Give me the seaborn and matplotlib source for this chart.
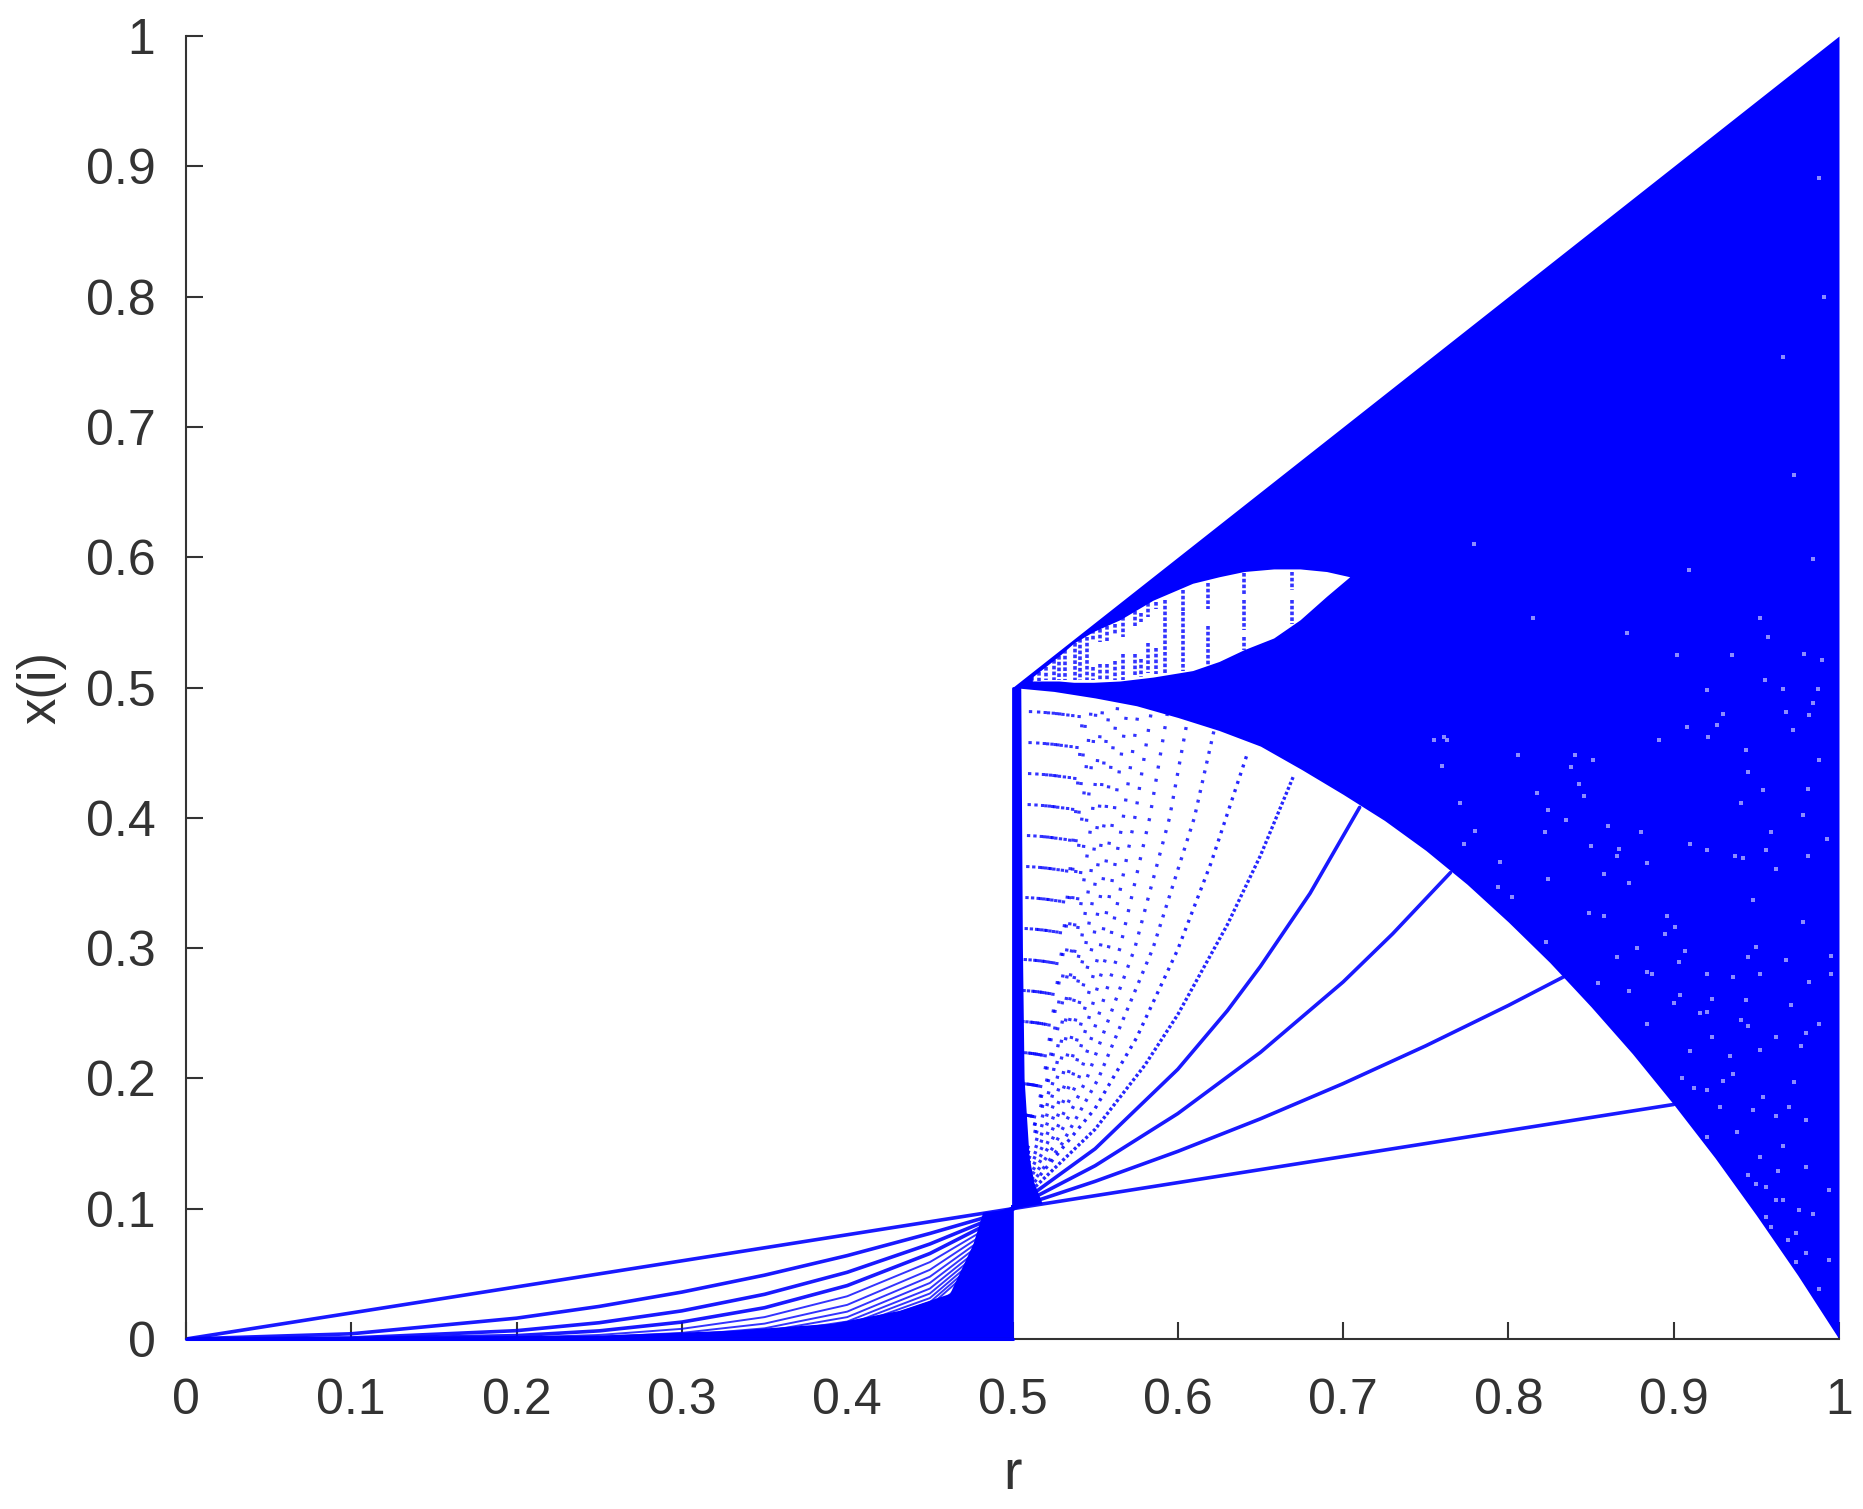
import matplotlib
matplotlib.use("Agg")
import matplotlib.pyplot as plt
import seaborn as sns

sns.set_theme(style="white")
plt.rcParams['font.family'] = ['Liberation Sans', 'DejaVu Sans']

BLUE = '#0000ff'
INK = '#333333'

x_ticks = [0, .1, .2, .3, .4, .5, .6, .7, .8, .9, 1]
tick_labels = ['0', '0.1', '0.2', '0.3', '0.4', '0.5', '0.6', '0.7', '0.8', '0.9', '1']

# main dense band, right half
band_r = [.5, .525, .55, .575, .6, .625, .65, .675, .7, .725, .75, .775, .8, .825, .85, .875, .9, .925, .95, .975, 1]
band_top = [.5, .525, .55, .575, .6, .625, .65, .675, .7, .725, .75, .775, .8, .825, .85, .875, .9, .925, .95, .975, 1]
band_low = [.5, .497, .492, .486, .477, .467, .455, .437, .418, .398, .375, .349, .32, .289, .255, .219, .18, .139, .095, .049, 0]

# white eye inside the band
eye_r = [.512, .52, .528, .537, .549, .565, .585, .609, .625, .64, .658, .674, .69, .704]
eye_top = [.508, .516, .524, .534, .543, .552, .567, .58, .585, .589, .591, .591, .589, .585]
eye_low = [.505, .505, .505, .504, .504, .505, .508, .513, .52, .529, .538, .552, .57, .585]

# vertical dotted columns inside the eye
col_r = [.669, .669, .640, .640, .640, .618, .618, .603, .603, .592, .582, .582, .574, .574,
         .567, .567, .557, .557, .549, .549, .545, .532,
         .512, .516, .520, .525, .528, .538, .541, .553, .553, .562, .562, .578, .578, .587, .587]
col_hi = [.589, .567, .588, .567, .539, .580, .547, .575, .558, .567, .565, .534, .559, .526,
          .554, .526, .547, .518, .544, .516, .539, .529,
          .508, .512, .516, .521, .524, .534, .537, .545, .518, .549, .520, .557, .522, .566, .530]
col_lo = [.575, .549, .572, .544, .529, .560, .517, .559, .513, .511, .554, .511, .547, .508,
          .539, .506, .536, .506, .536, .506, .506, .506,
          .505, .505, .506, .506, .506, .506, .506, .535, .506, .540, .506, .550, .508, .560, .510]

# first iterates, rising from (0.5, 0.1) until they meet the band
ray1_r, ray1_y = [.5, .7, .9], [.1, .14, .18]
ray2_r, ray2_y = [.5, .55, .6, .65, .7, .75, .8, .835], [.1, .121, .144, .169, .196, .225, .256, .279]
ray3_r, ray3_y = [.5, .55, .6, .65, .7, .73, .765], [.1, .133, .173, .22, .274, .311, .358]
ray4_r, ray4_y = [.5, .55, .6, .63, .65, .68, .71], [.1, .146, .207, .252, .286, .342, .408]
ray5_r, ray5_y = [.5, .55, .58, .6, .63, .65, .67], [.1, .161, .21, .249, .318, .371, .432]
ray6_r, ray6_y = [.5, .55, .575, .6, .62, .642], [.1, .177, .231, .299, .365, .449]

# later iterates, read as r position at fixed heights
fan_y = [.1, .15, .2, .3, .4, .49]
fan_rows = [
    (2.1, [.5, .530, .552, .585, .610, .626]),
    (2.6, [.5, .526, .545, .574, .595, .608]),
    (3.1, [.5, .523, .540, .565, .583, .595]),
    (3.5, [.5, .521, .536, .558, .574, .585]),
    (4.0, [.5, .519, .533, .553, .567, .577]),
    (4.5, [.5, .517, .530, .548, .561, .570]),
    (5.0, [.5, .516, .527, .544, .556, .564]),
    (5.6, [.5, .515, .525, .541, .552, .559]),
    (6.3, [.5, .514, .524, .538, .548, .555]),
    (7.0, [.5, .513, .522, .536, .545, .551]),
    (7.0, [.5, .512, .521, .533, .542, .548]),
    (7.7, [.5, .511, .520, .531, .540, .545]),
    (7.7, [.5, .511, .519, .530, .538, .543]),
    (8.4, [.5, .510, .518, .528, .536, .541]),
    (8.4, [.5, .509, .516, .526, .533, .537]),
    (8.4, [.5, .509, .515, .524, .530, .534]),
    (8.4, [.5, .508, .514, .522, .527, .531]),
    (8.4, [.5, .507, .513, .520, .525, .529]),
    (8.4, [.5, .507, .512, .519, .524, .527]),
    (8.4, [.5, .506, .511, .517, .522, .525]),
    (8.4, [.5, .506, .510, .515, .520, .522]),
    (8.4, [.5, .505, .509, .514, .518, .520]),
    (8.4, [.5, .504, .507, .511, .514, .516]),
    (8.4, [.5, .503, .505, .508, .510, .511]),
]

# solid wedge hugging r = 0.5 on the right side
wall_y = [.1, .104, .12, .14, .2, .3, .5]
wall_r = [.5, .518, .513, .510, .507, .506, .505]

# left half: curves rising to (0.5, 0.1)
left_r = [0, .1, .2, .25, .3, .35, .4, .45, .48, .5]
left_rows = [
    [0, .02, .04, .05, .06, .07, .08, .09, .096, .1],
    [0, .004, .016, .025, .036, .049, .064, .081, .092, .1],
    [0, .0008, .0064, .0125, .0216, .0343, .0512, .0729, .0885, .1],
    [0, .0002, .0026, .00625, .013, .024, .041, .0656, .085, .1],
    [0, 0, .001, .0031, .0078, .0168, .0328, .059, .0815, .1],
    [0, 0, .0004, .0016, .0047, .0118, .0262, .0531, .0783, .1],
    [0, 0, .0002, .0008, .0028, .0082, .021, .0478, .0751, .1],
    [0, 0, 0, .0004, .0017, .0058, .0168, .043, .0721, .1],
    [0, 0, 0, .0002, .001, .004, .0134, .0387, .0693, .1],
    [0, 0, 0, .0001, .0006, .0028, .0107, .0349, .0665, .1],
    [0, 0, 0, 0, .0004, .002, .0086, .0314, .0638, .1],
    [0, 0, 0, 0, .0002, .0014, .0069, .0282, .0613, .1],
    [0, 0, 0, 0, .0001, .001, .0055, .0254, .0588, .1],
    [0, 0, 0, 0, 0, .0005, .0035, .0206, .0542, .1],
    [0, 0, 0, 0, 0, .0002, .0018, .015, .048, .1],
    [0, 0, 0, 0, 0, .0001, .0007, .0098, .0408, .1],
    [0, 0, 0, 0, 0, 0, .0003, .0065, .0346, .1],
]
left_solid_r = [0, .25, .331, .391, .4315, .462, .476, .482, .5]
left_solid_y = [.0015, .003, .0068, .0121, .022, .035, .073, .0975, .1]

# light specks inside the dense band
speck_r = [.912, .936, .973, .962, .945, .884, .954, .938, .950, .956, .963, .956, .959, .974, .980,
           .945, .966, .976, .984, .980, .970, .962, .920, .905, .910, .923, .916, .900, .941, .980,
           .988, .971, .934, .952, .948, .920, .928, .962, .952, .980, .966, .994, .994, .988, .974, .969,
           .761, .779, .815, .851, .880, .909, .930, .952, .973, .991, .988, .966, .937, .901, .858,
           .822, .794, .952, .981, .923, .887, .866, .945, .966, .988, .984, .959, .995, .977, .930,
           .872, .957, .902, .935, .979, .990, .920, .987, .955, .984, .968, .982, .908, .926, .921, .972,
           .763, .755, .891, .840, .760, .838, .806, .944, .843, .846, .817, .771, .954, .981, .941, .824,
           .978, .860, .835, .780, .993, .867, .850, .920, .773, .910, .942, .956, .884, .795, .824, .858,
           .873, .962, .802, .849, .896, .948, .823, .895, .907, .945, .950, .903, .920, .968, .936, .878,
           .866, .884, .854, .904, .944, .978, .995, .982, .920, .873]
speck_y = [.193, .203, .197, .232, .240, .242, .186, .159, .119, .117, .129, .094, .086, .081, .066,
           .126, .107, .099, .096, .168, .178, .171, .191, .200, .221, .232, .250, .258, .245, .235,
           .242, .256, .217, .222, .176, .155, .178, .107, .140, .132, .148, .114, .061, .038, .059, .076,
           .462, .610, .553, .444, .389, .590, .480, .553, .663, .800, .891, .754, .371, .316, .325,
           .389, .347, .280, .371, .261, .280, .371, .435, .499, .444, .599, .389, .280, .225, .198,
           .542, .539, .525, .525, .526, .521, .498, .499, .506, .488, .481, .479, .470, .471, .462, .467,
           .460, .460, .460, .448, .440, .439, .448, .452, .426, .417, .419, .411, .421, .422, .411, .406,
           .402, .394, .398, .390, .384, .376, .378, .375, .380, .380, .369, .375, .365, .366, .353, .357,
           .350, .361, .339, .327, .325, .337, .305, .311, .298, .293, .301, .289, .280, .291, .278, .300,
           .293, .282, .273, .264, .260, .320, .294, .274, .251, .267]

W, H = 1863, 1509
L, R, T, B = 186, 1839, 36, 1339
fig = plt.figure(figsize=(W / 100, H / 100), dpi=100, facecolor='white')
ax = fig.add_axes([L / W, 1 - B / H, (R - L) / W, (B - T) / H])
ax.set_axisbelow(True)


def curve(x, y, lw=1.6, ls='-', alpha=1.0, z=2):
    sns.lineplot(x=x, y=y, ax=ax, color=BLUE, linewidth=lw, linestyle=ls, alpha=alpha,
                 estimator=None, sort=False, legend=False, zorder=z, errorbar=None)


# right half
for off, row in fan_rows:
    curve(row, fan_y, lw=2.4, ls=(0, (.9, off)), alpha=.8)
curve(ray5_r, ray5_y, lw=2.4, ls=(0, (.9, .7)), alpha=.85)
curve(ray6_r, ray6_y, lw=2.4, ls=(0, (.9, 1.7)), alpha=.85)
for rx, ry in [(ray1_r, ray1_y), (ray2_r, ray2_y), (ray3_r, ray3_y), (ray4_r, ray4_y)]:
    curve(rx, ry, lw=2.6, alpha=.9)

ax.fill_between(band_r, band_low, band_top, color=BLUE, lw=0, zorder=2.1)
ax.fill_between(eye_r, eye_low, eye_top, color='white', lw=0, zorder=2.2)
for rc, hi, lo in zip(col_r, col_hi, col_lo):
    curve([rc, rc], [hi, lo], lw=2.6, ls=(0, (1.0, .6)), alpha=.8, z=2.3)
ax.fill_betweenx(wall_y, .5, wall_r, color=BLUE, lw=0, zorder=2.1)

sns.scatterplot(x=speck_r, y=speck_y, ax=ax, color='#8c8cff', s=11, marker='s', linewidth=0,
                legend=False, zorder=2.4)

# left half
for i, row in enumerate(left_rows):
    curve(left_r, row, lw=2.6 if i < 4 else 1.4, z=2, alpha=.9 if i < 4 else .8)
ax.fill_between(left_solid_r, 0, left_solid_y, color=BLUE, lw=0, zorder=2.1)
curve([0, .5], [0, 0], lw=2.2, z=3)
ax.lines[-1].set_clip_on(False)
curve([.5, .5], [.0, .1], lw=1.2, z=2.2)
curve([.5, .5], [.1, .5], lw=2.0, z=2.2)

ax.set_xlim(0, 1)
ax.set_ylim(0, 1)
ax.set_xticks(x_ticks, tick_labels)
ax.set_yticks(x_ticks, tick_labels)
ax.tick_params(direction='in', length=12, width=1.5, color=INK, labelcolor=INK,
               labelsize=36, bottom=True, left=True)
ax.tick_params(axis='x', pad=28)
ax.tick_params(axis='y', pad=22)
sns.despine(ax=ax)
for s in ('left', 'bottom'):
    ax.spines[s].set_color(INK)
    ax.spines[s].set_linewidth(1.5)
ax.set_xlabel('r', fontsize=40, color=INK, labelpad=18)
ax.set_ylabel('x(i)', fontsize=38, color=INK, labelpad=14)

fig.savefig('out.png', dpi=100, facecolor='white')
